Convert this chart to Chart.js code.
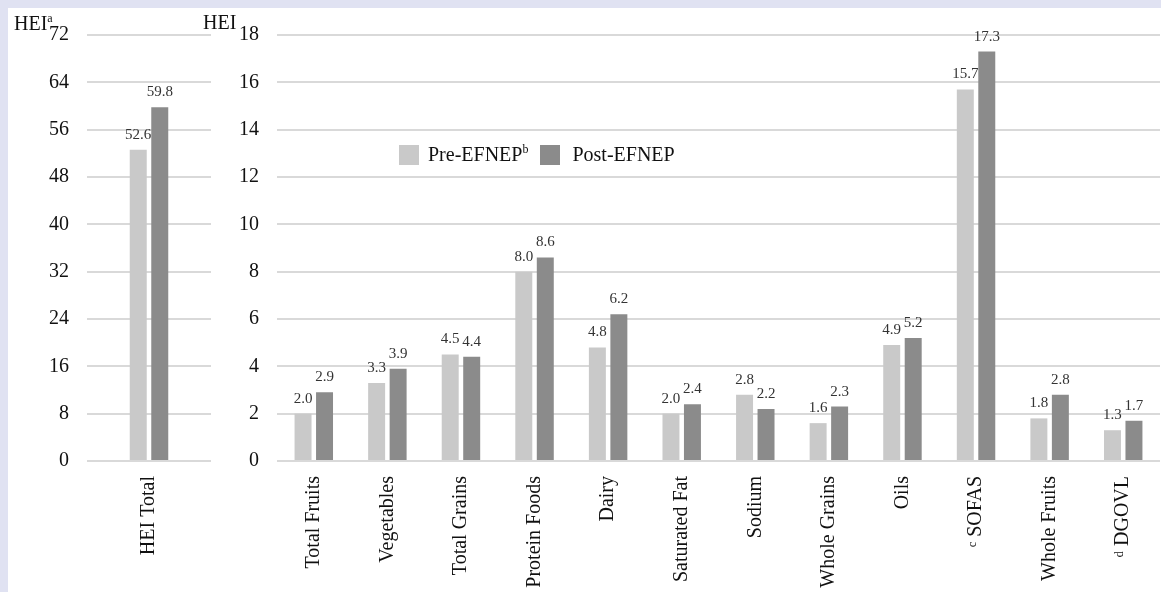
<!DOCTYPE html>
<html>
<head>
<meta charset="utf-8">
<script src="https://cdn.jsdelivr.net/npm/chart.js@4.4.1/dist/chart.umd.min.js"></script>
<style>
  html, body { margin:0; padding:0; }
  body { width:1161px; height:592px; background:#e0e2f2; position:relative; overflow:hidden; font-family:"Liberation Serif", "DejaVu Serif", serif; }
  #panel { position:absolute; left:8px; top:8px; width:1153px; height:584px; background:#ffffff; }
  .cw { position:absolute; }
  .lbl { position:absolute; font-size:20px; color:#111; line-height:20px; white-space:nowrap; }
  .lbl sup, .legend sup { font-size:12px; line-height:1; vertical-align:super; }
  .legend { position:absolute; left:399px; top:143px; font-size:20px; color:#111; display:flex; align-items:center; white-space:nowrap; }
  .legend .box { width:20px; height:20px; display:inline-block; margin-right:9px; }
</style>
</head>
<body>
<div id="panel"></div>
<div class="cw" style="left:8px; top:8px; width:222px; height:584px;"><canvas id="left"></canvas></div>
<div class="cw" style="left:230px; top:8px; width:931px; height:584px;"><canvas id="right"></canvas></div>
<div class="lbl" style="left:14px; top:12px;">HEI<sup>a</sup></div>
<div class="lbl" style="left:203px; top:12px;">HEI</div>
<div class="legend">
  <span class="box" style="background:#c9c9c9"></span><span>Pre-EFNEP<sup>b</sup></span>
  <span class="box" style="background:#8b8b8b; margin-left:12px;"></span><span style="margin-left:3px">Post-EFNEP</span>
</div>
<script>
// ---- data ----
const totalCategories = ['HEI Total'];
const totalPre = [52.6];
const totalPost = [59.8];

const categories = ['Total Fruits','Vegetables','Total Grains','Protein Foods','Dairy','Saturated Fat','Sodium','Whole Grains','Oils','\u1D9C SOFAS','Whole Fruits','\u1D48 DGOVL'];
const preValues  = [2.0, 3.3, 4.5, 8.0, 4.8, 2.0, 2.8, 1.6, 4.9, 15.7, 1.8, 1.3];
const postValues = [2.9, 3.9, 4.4, 8.6, 6.2, 2.4, 2.2, 2.3, 5.2, 17.3, 2.8, 1.7];

const leftTickMax = 72, leftTickStep = 8;
const rightTickMax = 18, rightTickStep = 2;

const seriesNames = ['Pre-EFNEP', 'Post-EFNEP'];
// ---- styling ----
const preColor = '#c9c9c9';
const postColor = '#8b8b8b';
const gridColor = '#d9d9d9';
const serif = '"Liberation Serif", "DejaVu Serif", serif';

const valueLabels = {
  id: 'valueLabels',
  afterDatasetsDraw(chart) {
    const ctx = chart.ctx;
    ctx.save();
    ctx.font = '15px ' + serif;
    ctx.fillStyle = '#333';
    ctx.textAlign = 'center';
    ctx.textBaseline = 'middle';
    chart.data.datasets.forEach((ds, i) => {
      const meta = chart.getDatasetMeta(i);
      meta.data.forEach((bar, j) => {
        ctx.fillText(ds.data[j].toFixed(1), bar.x, bar.y - 15);
      });
    });
    ctx.restore();
  }
};

function makeChart(id, labels, pre, post, max, step, yWidth, padRight, catPct) {
  return new Chart(document.getElementById(id), {
    type: 'bar',
    data: {
      labels: labels,
      datasets: [
        { label: seriesNames[0], data: pre, backgroundColor: preColor, barPercentage: 0.79, categoryPercentage: catPct },
        { label: seriesNames[1], data: post, backgroundColor: postColor, barPercentage: 0.79, categoryPercentage: catPct }
      ]
    },
    options: {
      responsive: true,
      maintainAspectRatio: false,
      animation: false,
      layout: { padding: { top: 27, right: padRight, left: 0, bottom: 0 } },
      plugins: { legend: { display: false }, tooltip: { enabled: false } },
      scales: {
        x: {
          grid: { display: false },
          border: { display: false },
          ticks: { minRotation: 90, maxRotation: 90, autoSkip: false, padding: 7, color: '#111', font: { family: serif, size: 20 } },
          afterFit(scale) { scale.height = 131; scale.paddingLeft = 0; scale.paddingRight = 0; }
        },
        y: {
          min: 0, max: max,
          grid: { color: gridColor, lineWidth: 2, drawTicks: false },
          border: { display: false },
          ticks: { stepSize: step, padding: 18, color: '#111', font: { family: serif, size: 20 } },
          afterFit(scale) { scale.width = yWidth; scale.paddingTop = 0; scale.paddingBottom = 0; }
        }
      }
    },
    plugins: [valueLabels]
  });
}

makeChart('left', totalCategories, totalPre, totalPost, leftTickMax, leftTickStep, 79, 19, 0.347);
makeChart('right', categories, preValues, postValues, rightTickMax, rightTickStep, 47, 1, 0.584);
</script>
</body>
</html>
